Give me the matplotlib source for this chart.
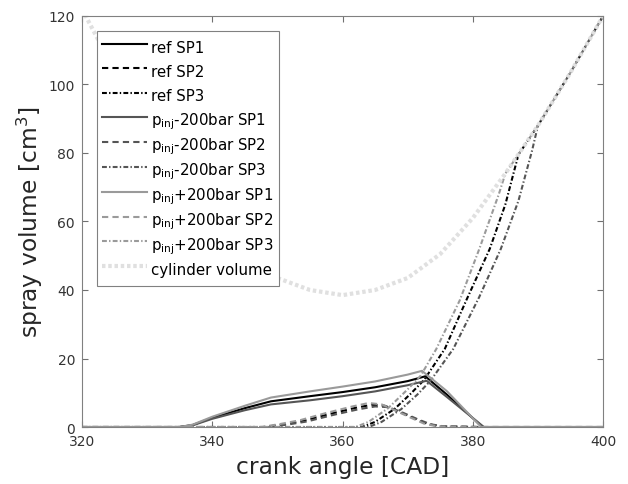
import matplotlib
matplotlib.use("Agg")
import matplotlib.pyplot as plt
import numpy as np

# crank angle [CAD] / spray volume [cm^3]
cad_sp1_ref = [320, 335, 337, 340, 345, 349, 355, 360, 365, 370, 372.7, 376, 381.5, 400]
vol_sp1_ref = [0, 0, 0.6, 2.7, 5.5, 7.5, 9.0, 10.2, 11.6, 13.4, 14.8, 9.5, 0, 0]
cad_sp1_lo = [320, 335, 337, 340, 345, 349, 355, 360, 365, 370, 372.9, 376, 381.7, 400]
vol_sp1_lo = [0, 0, 0.5, 2.4, 4.9, 6.6, 7.8, 9.0, 10.4, 12.2, 13.5, 8.8, 0, 0]
cad_sp1_hi = [320, 335, 337, 340, 345, 349, 355, 360, 365, 370, 372.2, 376, 381.3, 400]
vol_sp1_hi = [0, 0, 0.7, 3.0, 6.2, 8.6, 10.4, 11.8, 13.3, 15.3, 16.4, 10.5, 0, 0]

cad_sp2_ref = [320, 348, 351, 354, 358, 362, 364.5, 366.5, 368.5, 371, 373, 375, 381, 400]
vol_sp2_ref = [0, 0, 0.8, 1.8, 3.8, 5.6, 6.5, 6.2, 4.6, 2.5, 0.9, 0.2, 0, 0]
cad_sp2_lo = [320, 348.5, 351.5, 354.5, 358.5, 362.5, 365, 367, 369, 371.5, 373.5, 375.5, 381, 400]
vol_sp2_lo = [0, 0, 0.7, 1.6, 3.5, 5.2, 6.0, 5.8, 4.4, 2.3, 0.8, 0.2, 0, 0]
cad_sp2_hi = [320, 347.5, 350.5, 353.5, 357.5, 361.5, 364, 366, 368, 370.5, 372.5, 374.5, 381, 400]
vol_sp2_hi = [0, 0, 0.9, 2.0, 4.1, 6.0, 7.0, 6.6, 4.9, 2.7, 1.0, 0.2, 0, 0]

cad_sp3_ref = [320, 363, 365, 368, 370.4, 372.5, 375.7, 379, 382.6, 385, 387, 390, 395, 400]
vol_sp3_ref = [0, 0, 1.5, 5.3, 9.6, 13.7, 22.8, 37, 52, 65, 79.5, 88, 103.5, 120]
cad_sp3_lo = [320, 364, 366, 369, 371.5, 373.5, 377, 381, 384.3, 387, 389.1, 390, 395, 400]
vol_sp3_lo = [0, 0, 1.5, 5.2, 9.5, 13.5, 22.8, 38, 52, 66, 80.7, 88, 103.5, 120]
cad_sp3_hi = [320, 362, 364, 367, 370, 372, 374.4, 378, 381, 384, 385, 390, 395, 400]
vol_sp3_hi = [0, 0, 1.5, 5.5, 11, 15, 22.8, 37, 52, 68, 74, 88, 103.5, 120]

cad_cyl = [320, 325, 330, 335, 340, 345, 350, 355, 360, 365, 370, 375, 380, 385, 390, 395, 400]
vol_cyl = [122, 104, 86, 71, 58.5, 49.5, 43.5, 40, 38.5, 40, 43.5, 50.5, 61, 74, 88, 103.5, 120]

plt.rcParams['font.family'] = ['DejaVu Sans']
plt.rcParams['lines.scale_dashes'] = False
plt.rcParams['mathtext.fontset'] = 'dejavusans'

black, dark, light, cyl = '#000000', '#555555', '#9a9a9a', '#e0e0e0'
dash = (0, (4.5, 3.0))
dashdot = (0, (3.5, 1.6, 1.0, 1.6))
pinj = r'$\mathrm{p}_{\mathrm{inj}}$'

fig = plt.figure(figsize=(6.28, 4.85), dpi=100)
ax = fig.add_axes([0.1306, 0.1175, 0.8297, 0.8475])

lw = 1.5
ax.plot(cad_sp1_ref, vol_sp1_ref, color=black, lw=lw, label='ref SP1')
ax.plot(cad_sp2_ref, vol_sp2_ref, color=black, lw=lw, linestyle=dash, label='ref SP2')
ax.plot(cad_sp3_ref, vol_sp3_ref, color=black, lw=lw, linestyle=dashdot, label='ref SP3')
ax.plot(cad_sp1_lo, vol_sp1_lo, color=dark, lw=lw, label=pinj + '-200bar SP1')
ax.plot(cad_sp2_lo, vol_sp2_lo, color=dark, lw=lw, linestyle=dash, label=pinj + '-200bar SP2')
ax.plot(cad_sp3_lo, vol_sp3_lo, color=dark, lw=lw, linestyle=dashdot, label=pinj + '-200bar SP3')
ax.plot(cad_sp1_hi, vol_sp1_hi, color=light, lw=lw, label=pinj + '+200bar SP1')
ax.plot(cad_sp2_hi, vol_sp2_hi, color=light, lw=lw, linestyle=dash, label=pinj + '+200bar SP2')
ax.plot(cad_sp3_hi, vol_sp3_hi, color=light, lw=lw, linestyle=dashdot, label=pinj + '+200bar SP3')
ax.plot(cad_cyl, vol_cyl, color=cyl, lw=3, linestyle=(0, (2.5, 2.0)), label='cylinder volume')

ax.set_xlim(320, 400)
ax.set_ylim(0, 120)
ax.set_xticks(np.arange(320, 401, 20))
ax.set_yticks(np.arange(0, 121, 20))
ax.tick_params(direction='in', top=True, right=True, length=4, width=0.8,
               colors='#707070', labelcolor='#333333', labelsize=10, pad=5)
for s in ax.spines.values():
    s.set_color('#808080')
    s.set_linewidth(0.8)

ax.set_xlabel('crank angle [CAD]', fontsize=16.8, color='#262626', labelpad=5)
ax.set_ylabel('spray volume [cm$^3$]', fontsize=16.8, color='#262626', labelpad=3)

leg = ax.legend(loc='upper left', bbox_to_anchor=(0.0288, 0.9635), borderaxespad=0,
                fontsize=10.8, handlelength=3.0, handletextpad=0.25, handleheight=1.85,
                labelspacing=0.17, borderpad=0.35, fancybox=False, framealpha=1,
                edgecolor='#808080')
leg.get_frame().set_linewidth(0.8)

fig.savefig('out.png', dpi=100)
